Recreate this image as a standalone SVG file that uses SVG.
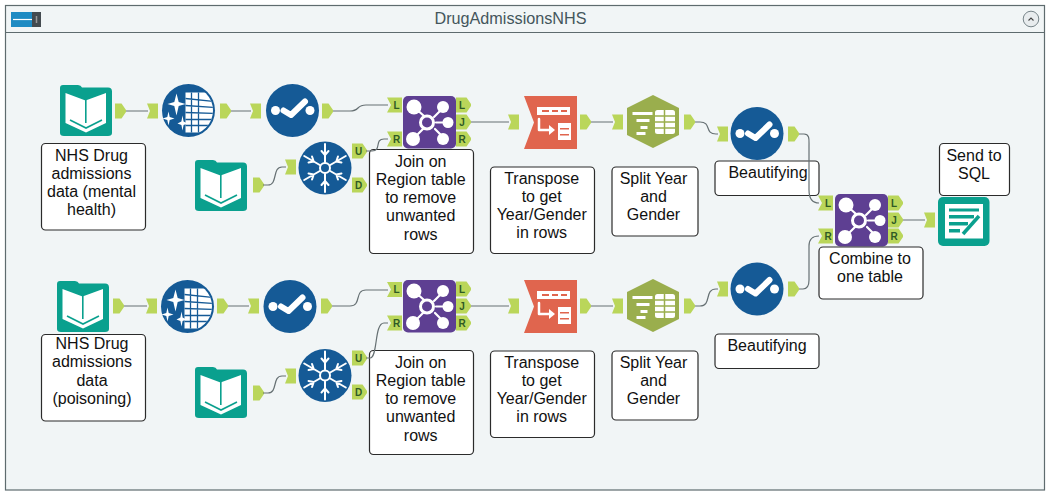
<svg xmlns="http://www.w3.org/2000/svg" xmlns:xlink="http://www.w3.org/1999/xlink" width="1050" height="494" viewBox="0 0 1050 494">
<style>
text{font-family:"Liberation Sans",Arial,sans-serif}
.lb{fill:#fff;stroke:#2b2b2b;stroke-width:1.2}
.t{font-size:16px;fill:#111;text-anchor:middle}
.c{fill:none;stroke:#667073;stroke-width:1.2}
.a{fill:#bad65a}
.al{font-size:10px;font-weight:bold;fill:#2f5a25;text-anchor:middle}
.w{fill:none;stroke:#fff;stroke-linecap:round;stroke-linejoin:round}
</style>
<defs>
<g id="in"><path class="a" d="M0,-7.500H11V7.500H0L3,0Z"/></g>
<g id="out"><path class="a" d="M0,-7.500H6.500L11,-1V1L6.500,7.500H0Z"/></g>
<g id="inL"><path class="a" d="M0,-7.500H15V7.500H0L4,0Z"/></g>
<g id="outL"><path class="a" d="M0,-7.500H10.500L15,-1V1L10.500,7.500H0Z"/></g>
<g id="book">
<path fill="#0aa08e" d="M3,0H18Q21,0 22,2.500H48Q52,2.500 52,6.500V48Q52,51 48,51H4Q0,51 0,48V3Q0,0 3,0Z"/>
<path fill="#fff" d="M5.500,8L25.500,15.500L46,8V38L26,47.500L5.500,38Z"/>
<path fill="none" stroke="#0aa08e" stroke-width="1.600" d="M25.800,15V38M10,35L26,43L42,35"/>
</g>
<g id="sel">
<circle r="26.500" fill="#155a96"/>
<circle cx="-17" r="4.500" fill="#fff"/><circle cx="17.500" r="4.500" fill="#fff"/>
<path class="w" stroke-width="6" d="M-9,0L-1.500,4.500L12.500,-9"/>
</g>
<clipPath id="cc"><circle r="24.500"/></clipPath>
<g id="auto">
<circle r="26.500" fill="#155a96"/>
<g clip-path="url(#cc)"><path fill="#fff" d="M-3,-18H26V22H-3Z"/>
<path fill="none" stroke="#155a96" stroke-width="1.300" d="M-3,-12L26,-9M-3,-5L26,-3M-3,2L26,3M-3,9L26,9M-3,15L26,15M3,-18V22M10,-18V22"/></g>
<path fill="#fff" d="M-12,-17L-9.800,-8.500L-3,-6.500L-9.800,-4.500L-12,5L-14.200,-4.500L-21,-6.500L-14.200,-8.500ZM-20,1L-18.800,6.500L-14,8L-18.800,9.500L-20,15L-21.200,9.500L-26,8L-21.200,6.500ZM-6,5L-4.900,11L-1,13L-4.900,14.500L-6,20L-7.100,14.500L-11,13L-7.100,11Z"/>
</g>
<g id="arm"><path class="w" stroke-width="2" d="M0,-6V-24M-3.500,-17L0,-13L3.500,-17"/></g>
<g id="snow">
<circle r="26.500" fill="#155a96"/>
<use xlink:href="#arm" href="#arm"/><use xlink:href="#arm" href="#arm" transform="rotate(60)"/><use xlink:href="#arm" href="#arm" transform="rotate(120)"/><use xlink:href="#arm" href="#arm" transform="rotate(180)"/><use xlink:href="#arm" href="#arm" transform="rotate(240)"/><use xlink:href="#arm" href="#arm" transform="rotate(300)"/>
<circle r="5" fill="none" stroke="#fff" stroke-width="2"/>
</g>
<g id="join">
<rect width="53" height="52.500" rx="5" fill="#5e3f92"/>
<path class="w" stroke-width="2.200" d="M11,11L21,20M41,11L31,21M44,26.500H33M11,42L20,33M41,42L32,33"/>
<circle cx="11" cy="11" r="7.500" fill="#fff"/><circle cx="40" cy="11" r="6" fill="#fff"/><circle cx="45" cy="26.500" r="5.500" fill="#fff"/><circle cx="10" cy="43" r="7" fill="#fff"/><circle cx="40" cy="43" r="6" fill="#fff"/>
<circle cx="24" cy="26.500" r="6.500" fill="none" stroke="#fff" stroke-width="3"/>
</g>
<g id="trans">
<path fill="#e0654e" d="M0,0H53V53H0L10,26.500Z"/>
<path fill="#fff" d="M13,11H46V19H13ZM34,27H47V44H34Z"/>
<path fill="#e0654e" d="M18,14H25V16H18ZM28,14H34V16H28ZM37,14H43V16H37ZM36,32H45V33.500H36ZM36,38H45V39.500H36Z"/>
<path class="w" stroke-width="2.500" d="M15,23V34H26"/><path fill="#fff" d="M25,29L31,34L25,39Z"/>
</g>
<g id="hex">
<path fill="#9aae4d" d="M26,0L52,13V40L26,53L0,40V13Z"/>
<path fill="#fff" d="M6,17H26V20H6ZM10,24H23V27H10ZM14,31H21V34H14ZM10,37H19V40H10Z" transform="translate(-0.500,0)"/>
<rect x="28" y="15" width="20" height="24" rx="2.500" fill="#fff"/>
<path fill="none" stroke="#9aae4d" stroke-width="1.500" d="M28,21H48M28,27H48M28,33H48M37.500,15V39"/>
</g>
<g id="sql">
<rect width="51.500" height="49" rx="5" fill="#0aa08e"/>
<rect x="7" y="7" width="38" height="34.500" fill="#fff"/>
<path fill="#0aa08e" d="M11,11.500H41V14.500H11ZM11,18H36V21.500H11ZM11,25H30V28.500H11ZM11,32H22V35.500H11Z"/>
<path stroke="#fff" stroke-width="6" d="M24,39L41,20"/><path stroke="#0aa08e" stroke-width="3.500" d="M25,37L41,19"/>
</g>
</defs>

<rect width="1050" height="494" fill="#fff"/>
<rect x="5.500" y="5.500" width="1039" height="484.500" fill="#f1f5f6" stroke="#5e6b6e" stroke-width="1.200"/>
<path d="M5.500,32.500H1044.500" stroke="#5e6b6e" stroke-width="1.200" fill="none"/>

<g id="container-header">
<rect x="11" y="12" width="21" height="15" fill="#1e8bc3"/><rect x="32" y="12" width="9" height="15" fill="#444b50"/>
<path d="M13,19.500H32" stroke="#fff" stroke-width="1.200"/><path d="M36.500,16V23" stroke="#999" stroke-width="1.500"/>
<text x="510.500" y="24" font-size="16.200" fill="#44565c" text-anchor="middle">DrugAdmissionsNHS</text>
<circle cx="1031" cy="19" r="7.800" fill="#e8ecee" stroke="#78858a"/>
<path d="M1028.500,20.500L1031,18L1033.500,20.500" fill="none" stroke="#444" stroke-width="1.100"/>
</g>

<g id="input-mental">
<use href="#book" transform="translate(60,85)"/>
<rect class="lb" x="41.500" y="143.500" width="104" height="86.500" rx="4"/>
<text class="t" x="91.500" y="160.500">NHS Drug</text><text class="t" x="91.500" y="178.800">admissions</text><text class="t" x="91.500" y="197.100">data (mental</text><text class="t" x="91.500" y="215.400">health)</text>
<use href="#out" transform="translate(115,111)"/>
</g>
<g id="autofield-1"><use href="#in" transform="translate(147,111)"/><use href="#auto" transform="translate(188.500,110.500)"/><use href="#out" transform="translate(220,111)"/></g>
<g id="select-1"><use href="#in" transform="translate(250,111)"/><use href="#sel" transform="translate(292.500,110.500)"/><use href="#out" transform="translate(322,111)"/></g>
<g id="input-regions-1"><use href="#book" transform="translate(195,160)"/><use href="#out" transform="translate(253,185)"/></g>
<g id="unique-1"><use href="#in" transform="translate(285,167)"/><use href="#snow" transform="translate(325,168)"/>
<use href="#outL" transform="translate(352,151)"/><text class="al" x="358.500" y="154.500">U</text>
<use href="#outL" transform="translate(352,185)"/><text class="al" x="358.500" y="188.500">D</text></g>
<g id="join-1">
<use href="#join" transform="translate(403,96)"/>
<use href="#inL" transform="translate(387,105)"/><text class="al" x="396.500" y="108.500">L</text>
<use href="#inL" transform="translate(387,139)"/><text class="al" x="396.500" y="142.500">R</text>
<use href="#outL" transform="translate(456,105)"/><text class="al" x="462" y="108.500">L</text>
<use href="#outL" transform="translate(456,122)"/><text class="al" x="462" y="125.500">J</text>
<use href="#outL" transform="translate(456,139)"/><text class="al" x="462" y="142.500">R</text>
<rect class="lb" x="369.500" y="149.500" width="104" height="104" rx="4"/>
<text class="t" x="420.700" y="166.500">Join on</text><text class="t" x="420.700" y="184.800">Region table</text><text class="t" x="420.700" y="203.100">to remove</text><text class="t" x="420.700" y="221.400">unwanted</text><text class="t" x="420.700" y="239.700">rows</text>
</g>
<g id="transpose-1">
<use href="#in" transform="translate(508,122)"/><use href="#trans" transform="translate(524,96)"/><use href="#out" transform="translate(580,122)"/>
<rect class="lb" x="490.500" y="167" width="104" height="86.500" rx="4"/>
<text class="t" x="541.700" y="183.500">Transpose</text><text class="t" x="541.700" y="201.800">to get</text><text class="t" x="541.700" y="220.100">Year/Gender</text><text class="t" x="541.700" y="238.400">in rows</text>
</g>
<g id="split-1">
<use href="#in" transform="translate(612,122)"/><use href="#hex" transform="translate(627,95)"/><use href="#out" transform="translate(684,122)"/>
<rect class="lb" x="612" y="167" width="86" height="69" rx="4"/>
<text class="t" x="653.500" y="183.500">Split Year</text><text class="t" x="653.500" y="201.800">and</text><text class="t" x="653.500" y="220.100">Gender</text>
</g>
<g id="select-2">
<use href="#in" transform="translate(717,134)"/><use href="#sel" transform="translate(757,133.500)"/><use href="#out" transform="translate(788,134)"/>
<rect class="lb" x="715" y="161" width="104" height="34.500" rx="4"/>
<text class="t" x="768" y="177.500">Beautifying</text>
</g>

<g id="input-poison">
<use href="#book" transform="translate(57,281)"/>
<rect class="lb" x="41.500" y="334.500" width="104" height="86.500" rx="4"/>
<text class="t" x="92" y="349">NHS Drug</text><text class="t" x="92" y="367.300">admissions</text><text class="t" x="92" y="385.600">data</text><text class="t" x="92" y="403.900">(poisoning)</text>
<use href="#out" transform="translate(113,306)"/>
</g>
<g id="autofield-2"><use href="#in" transform="translate(146,306)"/><use href="#auto" transform="translate(187.500,306.500)"/><use href="#out" transform="translate(217,306)"/></g>
<g id="select-3"><use href="#in" transform="translate(248,306)"/><use href="#sel" transform="translate(290,306.500)"/><use href="#out" transform="translate(321,306)"/></g>
<g id="input-regions-2"><use href="#book" transform="translate(195,367)"/><use href="#out" transform="translate(253,393)"/></g>
<g id="unique-2"><use href="#in" transform="translate(285,376)"/><use href="#snow" transform="translate(325,375.500)"/>
<use href="#outL" transform="translate(352,358)"/><text class="al" x="358.500" y="361.500">U</text>
<use href="#outL" transform="translate(352,392)"/><text class="al" x="358.500" y="395.500">D</text></g>
<g id="join-2">
<use href="#join" transform="translate(403,280)"/>
<use href="#inL" transform="translate(387,289.500)"/><text class="al" x="396.500" y="293">L</text>
<use href="#inL" transform="translate(387,323)"/><text class="al" x="396.500" y="326.500">R</text>
<use href="#outL" transform="translate(456,289)"/><text class="al" x="462" y="292.500">L</text>
<use href="#outL" transform="translate(456,306)"/><text class="al" x="462" y="309.500">J</text>
<use href="#outL" transform="translate(456,323)"/><text class="al" x="462" y="326.500">R</text>
<rect class="lb" x="369.500" y="350.500" width="104" height="104" rx="4"/>
<text class="t" x="420.700" y="367.500">Join on</text><text class="t" x="420.700" y="385.800">Region table</text><text class="t" x="420.700" y="404.100">to remove</text><text class="t" x="420.700" y="422.400">unwanted</text><text class="t" x="420.700" y="440.700">rows</text>
</g>
<g id="transpose-2">
<use href="#in" transform="translate(508,306)"/><use href="#trans" transform="translate(524,280)"/><use href="#out" transform="translate(580,306)"/>
<rect class="lb" x="490.500" y="351" width="104" height="86.500" rx="4"/>
<text class="t" x="541.700" y="367.500">Transpose</text><text class="t" x="541.700" y="385.800">to get</text><text class="t" x="541.700" y="404.100">Year/Gender</text><text class="t" x="541.700" y="422.400">in rows</text>
</g>
<g id="split-2">
<use href="#in" transform="translate(612,306)"/><use href="#hex" transform="translate(627,279)"/><use href="#out" transform="translate(684,306)"/>
<rect class="lb" x="612" y="351" width="86" height="69" rx="4"/>
<text class="t" x="653.500" y="367.500">Split Year</text><text class="t" x="653.500" y="385.800">and</text><text class="t" x="653.500" y="404.100">Gender</text>
</g>
<g id="select-4">
<use href="#in" transform="translate(717,289)"/><use href="#sel" transform="translate(757,289)"/><use href="#out" transform="translate(788,289)"/>
<rect class="lb" x="715" y="334" width="104" height="34.500" rx="4"/>
<text class="t" x="767" y="350.500">Beautifying</text>
</g>

<g id="join-3">
<use href="#join" transform="translate(835,194)"/>
<use href="#inL" transform="translate(818,203)"/><text class="al" x="828" y="206.500">L</text>
<use href="#inL" transform="translate(818,236)"/><text class="al" x="828" y="239.500">R</text>
<use href="#outL" transform="translate(888,203)"/><text class="al" x="894" y="206.500">L</text>
<use href="#outL" transform="translate(888,220)"/><text class="al" x="894" y="223.500">J</text>
<use href="#outL" transform="translate(888,236)"/><text class="al" x="894" y="239.500">R</text>
<rect class="lb" x="819" y="247" width="104" height="52" rx="4"/>
<text class="t" x="870" y="264">Combine to</text><text class="t" x="870" y="282.300">one table</text>
</g>
<g id="output">
<use href="#sql" transform="translate(938,197)"/><use href="#in" transform="translate(924,220)"/>
<rect class="lb" x="939.500" y="143.500" width="70" height="52" rx="4"/>
<text class="t" x="974" y="160.500">Send to</text><text class="t" x="974" y="178.800">SQL</text>
</g>

<g id="connectors">
<path class="c" d="M126,111H148M231,111H251M471,122H509M591,122H613M124,306H147M228,306H249M471,306H509M591,306H613M903,220H925"/>
<path class="c" d="M333,111H350C360,111 356,105 366,105H388"/>
<path class="c" d="M263,185H268C278,185 272,167 282,167H286"/>
<path class="c" d="M366,151H372C382,151 374,139 384,139H388"/>
<path class="c" d="M695,122H700C712,122 704,134 716,134H718"/>
<path class="c" d="M799,134H804C810,134 809,140 809,146V190C809,198 812,203 819,203"/>
<path class="c" d="M332,306H350C362,306 354,290 366,290H388"/>
<path class="c" d="M263,393H268C278,393 272,376 282,376H286"/>
<path class="c" d="M366,358H370C378,358 374,323 384,323H388"/>
<path class="c" d="M695,306H700C712,306 704,289 716,289H718"/>
<path class="c" d="M799,289H803C808,289 809,284 809,280V246C809,240 812,236 819,236"/>
</g>
</svg>
